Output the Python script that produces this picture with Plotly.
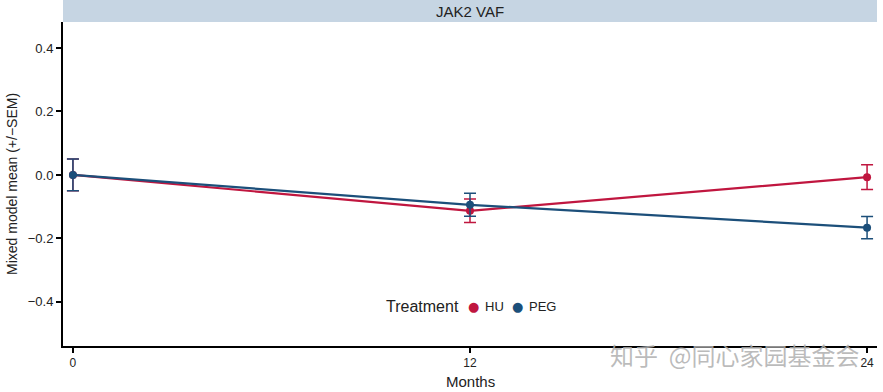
import plotly.graph_objects as go

months = [0, 12, 24]
hu_mean = [0.0, -0.113, -0.007]
hu_sem = [0.05, 0.037, 0.039]
peg_mean = [0.0, -0.094, -0.166]
peg_sem = [0.05, 0.036, 0.035]
x_ticks = [0, 12, 24]
y_ticks = [-0.4, -0.2, 0.0, 0.2, 0.4]
groups = ["HU", "PEG"]

HU_COLOR = "#C0163F"
PEG_COLOR = "#1C4F7A"
NARROW = "Liberation Sans Narrow, Arial Narrow, sans-serif"

PW, PH = 814, 324  # plot area size in px

fig = go.Figure()
for name, mean, sem, col in [("HU", hu_mean, hu_sem, HU_COLOR), ("PEG", peg_mean, peg_sem, PEG_COLOR)]:
    fig.add_trace(go.Scatter(
        x=months, y=mean, name=name, mode="lines+markers", showlegend=False,
        line=dict(color=col, width=2.2),
        marker=dict(color=col, size=8),
        error_y=dict(type="data", array=sem, color=col, thickness=1.5, width=6),
    ))

fig.update_layout(
    width=883, height=392,
    margin=dict(l=63, r=6, t=22, b=46, autoexpand=False),
    plot_bgcolor="white", paper_bgcolor="white",
    font=dict(family="Liberation Sans, Arial, sans-serif", color="#222"),
    showlegend=False,
    xaxis=dict(
        range=[-0.3, 24.3], tickvals=x_ticks, ticktext=[str(v) for v in x_ticks],
        showgrid=False, zeroline=False, showline=True, linecolor="black", linewidth=2,
        ticks="outside", ticklen=5, tickwidth=1.5, tickcolor="black",
        tickfont=dict(size=12, color="#222"), automargin=False,
    ),
    yaxis=dict(
        range=[-0.539, 0.482], tickvals=y_ticks, tickformat=".1f",
        showgrid=False, zeroline=False, showline=True, linecolor="black", linewidth=2,
        ticks="outside", ticklen=5, tickwidth=1.5, tickcolor="black",
        tickfont=dict(size=13, color="#222"), automargin=False,
    ),
)

# Legend (drawn as annotations to match compact ggplot layout)
ly = (346 - 306) / PH
fig.add_annotation(text="Treatment", xref="paper", yref="paper", x=(461 - 63) / PW, y=ly,
                   xanchor="right", yanchor="middle", showarrow=False,
                   font=dict(size=16, color="#222"))
for name, col, dx in [(groups[0], HU_COLOR, 473), (groups[1], PEG_COLOR, 517)]:
    fig.add_annotation(text="\u25CF", xref="paper", yref="paper", x=(dx - 63) / PW, y=ly,
                       xanchor="center", yanchor="middle", showarrow=False,
                       font=dict(size=13, color=col, family="DejaVu Sans"))
    fig.add_annotation(text=name, xref="paper", yref="paper", x=(dx + 10 - 63) / PW, y=ly,
                       xanchor="left", yanchor="middle", showarrow=False,
                       font=dict(size=13, color="#222"))

# Axis titles
fig.add_annotation(text="Months", xref="paper", yref="paper", x=0.5, y=-35 / PH,
                   xanchor="center", yanchor="middle", showarrow=False,
                   font=dict(size=15, family=NARROW, color="#222"))
fig.add_annotation(text="Mixed model mean (+/\u2212SEM)", xref="paper", yref="paper",
                   x=-51 / PW, y=0.5, xanchor="center", yanchor="middle", textangle=-90,
                   showarrow=False, font=dict(size=14, family=NARROW, color="#222"))
# Facet strip
fig.add_shape(type="rect", xref="paper", yref="paper", x0=0, x1=1, y0=1, y1=1 + 22 / PH,
              fillcolor="#C6D5E3", line=dict(width=0), layer="below")
fig.add_annotation(text="JAK2 VAF", xref="paper", yref="paper", x=0.5, y=1 + 11 / PH,
                   showarrow=False, font=dict(size=15, color="#222"), yanchor="middle")
# Watermark
fig.add_annotation(text="知乎  @同心家园基金会", xref="paper", yref="paper", x=(861 - 63) / PW,
                   y=-8 / PH, xanchor="right", yanchor="middle", showarrow=False,
                   font=dict(size=24, color="rgba(175,175,175,0.85)", family="Noto Sans CJK SC"))

fig.write_html("out.html", config={"displayModeBar": False},
               post_script="document.body.style.margin='0';document.body.style.padding='0';")
